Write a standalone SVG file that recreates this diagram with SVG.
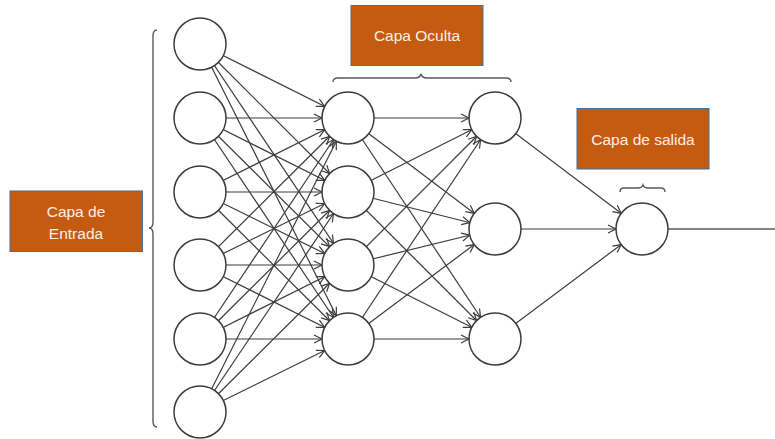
<svg xmlns="http://www.w3.org/2000/svg" width="775" height="439" viewBox="0 0 775 439">
  <style>
    .node { fill: #ffffff; stroke: #3c3c3c; stroke-width: 1.5; }
    .edge { stroke: #3c3c3c; stroke-width: 1.2; fill: none; marker-end: url(#arrow); }
    .plain { stroke: #5a5a5a; stroke-width: 1.4; fill: none; }
    .brace { stroke: #5a5a5a; stroke-width: 1.4; fill: none; }
    .label-box { fill: #C55A11; stroke: #41719C; stroke-width: 1; }
    .label { fill: #fbefe6; font-family: "Liberation Sans", Arial, sans-serif; font-size: 15.5px; text-anchor: middle; }
  </style>
  <defs>
    <!-- open chevron; refX shifts the tip back to the circle rim (r = 26) -->
    <marker id="arrow" markerUnits="userSpaceOnUse" markerWidth="40" markerHeight="10" refX="34" refY="4" orient="auto" overflow="visible">
      <path d="M0,0 L8,4 L0,8" fill="none" stroke="#3c3c3c" stroke-width="1.2"/>
    </marker>
  </defs>

  <rect width="775" height="439" fill="#ffffff"/>

  <!-- connectors (centre to centre, hidden under the node circles) -->
  <g id="connectors">
    <!-- input -> hidden 1 -->
    <line class="edge" x1="200" y1="44" x2="348" y2="118"/>
    <line class="edge" x1="200" y1="44" x2="348" y2="192"/>
    <line class="edge" x1="200" y1="44" x2="348" y2="265"/>
    <line class="edge" x1="200" y1="44" x2="348" y2="339"/>
    <line class="edge" x1="200" y1="118" x2="348" y2="118"/>
    <line class="edge" x1="200" y1="118" x2="348" y2="192"/>
    <line class="edge" x1="200" y1="118" x2="348" y2="265"/>
    <line class="edge" x1="200" y1="118" x2="348" y2="339"/>
    <line class="edge" x1="200" y1="192" x2="348" y2="118"/>
    <line class="edge" x1="200" y1="192" x2="348" y2="192"/>
    <line class="edge" x1="200" y1="192" x2="348" y2="265"/>
    <line class="edge" x1="200" y1="192" x2="348" y2="339"/>
    <line class="edge" x1="200" y1="265" x2="348" y2="118"/>
    <line class="edge" x1="200" y1="265" x2="348" y2="192"/>
    <line class="edge" x1="200" y1="265" x2="348" y2="265"/>
    <line class="edge" x1="200" y1="265" x2="348" y2="339"/>
    <line class="edge" x1="200" y1="339" x2="348" y2="118"/>
    <line class="edge" x1="200" y1="339" x2="348" y2="192"/>
    <line class="edge" x1="200" y1="339" x2="348" y2="265"/>
    <line class="edge" x1="200" y1="339" x2="348" y2="339"/>
    <line class="edge" x1="200" y1="412" x2="348" y2="118"/>
    <line class="edge" x1="200" y1="412" x2="348" y2="192"/>
    <line class="edge" x1="200" y1="412" x2="348" y2="265"/>
    <line class="edge" x1="200" y1="412" x2="348" y2="339"/>
    <!-- hidden 1 -> hidden 2 -->
    <line class="edge" x1="348" y1="118" x2="495" y2="118"/>
    <line class="edge" x1="348" y1="118" x2="495" y2="229"/>
    <line class="edge" x1="348" y1="118" x2="495" y2="339"/>
    <line class="edge" x1="348" y1="192" x2="495" y2="118"/>
    <line class="edge" x1="348" y1="192" x2="495" y2="229"/>
    <line class="edge" x1="348" y1="192" x2="495" y2="339"/>
    <line class="edge" x1="348" y1="265" x2="495" y2="118"/>
    <line class="edge" x1="348" y1="265" x2="495" y2="229"/>
    <line class="edge" x1="348" y1="265" x2="495" y2="339"/>
    <line class="edge" x1="348" y1="339" x2="495" y2="118"/>
    <line class="edge" x1="348" y1="339" x2="495" y2="229"/>
    <line class="edge" x1="348" y1="339" x2="495" y2="339"/>
    <!-- hidden 2 -> output -->
    <line class="edge" x1="495" y1="118" x2="642" y2="229"/>
    <line class="edge" x1="495" y1="229" x2="642" y2="229"/>
    <line class="edge" x1="495" y1="339" x2="642" y2="229"/>
    <!-- output line -->
    <line class="plain" x1="668" y1="229" x2="775" y2="229"/>
  </g>

  <!-- input layer -->
  <g id="input-1"><circle class="node" cx="200" cy="44" r="26"/></g>
  <g id="input-2"><circle class="node" cx="200" cy="118" r="26"/></g>
  <g id="input-3"><circle class="node" cx="200" cy="192" r="26"/></g>
  <g id="input-4"><circle class="node" cx="200" cy="265" r="26"/></g>
  <g id="input-5"><circle class="node" cx="200" cy="339" r="26"/></g>
  <g id="input-6"><circle class="node" cx="200" cy="412" r="26"/></g>

  <!-- hidden layer 1 -->
  <g id="hidden1-1"><circle class="node" cx="348" cy="118" r="26"/></g>
  <g id="hidden1-2"><circle class="node" cx="348" cy="192" r="26"/></g>
  <g id="hidden1-3"><circle class="node" cx="348" cy="265" r="26"/></g>
  <g id="hidden1-4"><circle class="node" cx="348" cy="339" r="26"/></g>

  <!-- hidden layer 2 -->
  <g id="hidden2-1"><circle class="node" cx="495" cy="118" r="26"/></g>
  <g id="hidden2-2"><circle class="node" cx="495" cy="229" r="26"/></g>
  <g id="hidden2-3"><circle class="node" cx="495" cy="339" r="26"/></g>

  <!-- output layer -->
  <g id="output-1"><circle class="node" cx="642" cy="229" r="26"/></g>

  <!-- braces -->
  <g id="brace-input">
    <path class="brace" d="M157,30 Q153,30 153,36 L153,222 Q153,228 149,228 Q153,228 153,234 L153,421 Q153,427 157,427"/>
  </g>
  <g id="brace-hidden">
    <path class="brace" d="M333,82 Q333,78 338,78 L415,78 Q420,78 421,74 Q422,78 427,78 L506,78 Q511,78 511,82"/>
  </g>
  <g id="brace-output">
    <path class="brace" d="M620,192 Q620,188 624,188 L638,188 Q642,188 643,185 Q644,188 648,188 L661,188 Q665,188 665,192"/>
  </g>

  <!-- layer labels -->
  <g id="label-hidden">
    <rect class="label-box" x="351" y="5.5" width="132" height="60"/>
    <text class="label" x="417" y="41">Capa Oculta</text>
  </g>
  <g id="label-output">
    <rect class="label-box" x="577" y="108.5" width="132" height="60.5"/>
    <text class="label" x="643" y="144.5">Capa de salida</text>
  </g>
  <g id="label-input">
    <rect class="label-box" x="10" y="191" width="132.5" height="60.5"/>
    <text class="label" x="76" y="217">Capa de</text>
    <text class="label" x="76" y="239">Entrada</text>
  </g>
</svg>
